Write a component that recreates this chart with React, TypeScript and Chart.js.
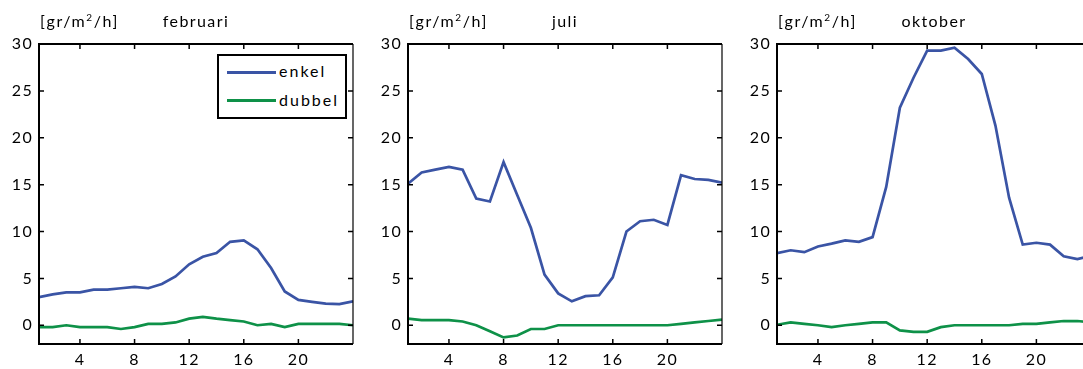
import React, { useEffect, useRef } from "react";
import { Chart, registerables } from "chart.js";

Chart.register(...registerables);

// ---- data ----
const hours = [1, 2, 3, 4, 5, 6, 7, 8, 9, 10, 11, 12, 13, 14, 15, 16, 17, 18, 19, 20, 21, 22, 23, 24];
const seriesNames = ["enkel", "dubbel"];
const months = ["februari", "juli", "oktober"];
const xTicks = [4, 8, 12, 16, 20];
const yTicks = [0, 5, 10, 15, 20, 25, 30];

const febEnkel = [3.0, 3.3, 3.5, 3.5, 3.8, 3.8, 3.95, 4.1, 3.95, 4.4, 5.2, 6.5, 7.3, 7.7, 8.9, 9.05, 8.1, 6.1, 3.6, 2.7, 2.5, 2.3, 2.25, 2.55];
const febDubbel = [-0.2, -0.2, 0, -0.2, -0.2, -0.2, -0.4, -0.2, 0.15, 0.15, 0.3, 0.7, 0.9, 0.7, 0.55, 0.4, 0, 0.15, -0.2, 0.15, 0.15, 0.15, 0.15, 0];
const julEnkel = [15.1, 16.3, 16.6, 16.9, 16.6, 13.5, 13.2, 17.4, 13.9, 10.4, 5.4, 3.4, 2.55, 3.1, 3.2, 5.1, 10.0, 11.1, 11.25, 10.7, 16.0, 15.6, 15.5, 15.2];
const julDubbel = [0.7, 0.55, 0.55, 0.55, 0.4, 0, -0.65, -1.3, -1.1, -0.4, -0.4, 0, 0, 0, 0, 0, 0, 0, 0, 0, 0.15, 0.3, 0.45, 0.6];
const oktEnkel = [7.7, 8.0, 7.8, 8.4, 8.7, 9.05, 8.9, 9.4, 14.75, 23.2, 26.4, 29.3, 29.3, 29.6, 28.4, 26.8, 21.3, 13.6, 8.6, 8.8, 8.6, 7.35, 7.05, 7.4];
const oktDubbel = [0.05, 0.3, 0.15, 0, -0.2, 0, 0.15, 0.3, 0.3, -0.55, -0.7, -0.7, -0.2, 0, 0, 0, 0, 0, 0.15, 0.15, 0.3, 0.45, 0.45, 0.3];

const BLUE = "#3a54a5";
const GREEN = "#0e9148";
const FONT = "Lato, 'Open Sans', sans-serif";

const PLOT_W = 314;
const AXIS_W = 39;
const CANVAS_W = AXIS_W + PLOT_W + 12;
const CANVAS_H = 369;

const framePlugin = {
  id: "frame",
  beforeDraw(chart: any) {
    (chart.ctx as any).letterSpacing = "1.3px";
  },
  afterDraw(chart: any) {
    const ctx = chart.ctx;
    const { left, right, top, bottom } = chart.chartArea;
    const x = chart.scales.x;
    const y = chart.scales.y;
    ctx.save();
    ctx.strokeStyle = "#000";
    ctx.lineWidth = 1.5;
    ctx.beginPath();
    xTicks.forEach((v) => {
      const px = x.getPixelForValue(v);
      ctx.moveTo(px, bottom);
      ctx.lineTo(px, bottom - 5);
      ctx.moveTo(px, top);
      ctx.lineTo(px, top + 5);
    });
    yTicks.forEach((v) => {
      const py = y.getPixelForValue(v);
      ctx.moveTo(left, py);
      ctx.lineTo(left + 5, py);
      ctx.moveTo(right, py);
      ctx.lineTo(right - 5, py);
    });
    ctx.stroke();
    ctx.lineWidth = 2;
    ctx.beginPath();
    ctx.moveTo(right, top);
    ctx.lineTo(left, top);
    ctx.lineTo(left, bottom);
    ctx.lineTo(right, bottom);
    ctx.stroke();
    ctx.lineWidth = 1.2;
    ctx.beginPath();
    ctx.moveTo(right, top);
    ctx.lineTo(right, bottom);
    ctx.stroke();
    ctx.restore();
  },
};

function Panel({ enkel, dubbel, left }: { enkel: number[]; dubbel: number[]; left: number }) {
  const ref = useRef<HTMLCanvasElement | null>(null);
  useEffect(() => {
    if (!ref.current) return;
    const chart = new Chart(ref.current, {
      type: "line",
      data: {
        labels: hours,
        datasets: [
          {
            label: seriesNames[0],
            data: hours.map((h, i) => ({ x: h, y: enkel[i] })),
            borderColor: BLUE,
            borderWidth: 2.7,
            pointRadius: 0,
            tension: 0,
          },
          {
            label: seriesNames[1],
            data: hours.map((h, i) => ({ x: h, y: dubbel[i] })),
            borderColor: GREEN,
            borderWidth: 2.7,
            pointRadius: 0,
            tension: 0,
          },
        ],
      },
      options: {
        animation: false,
        responsive: false,
        devicePixelRatio: 1,
        layout: { padding: { top: 44, right: CANVAS_W - AXIS_W - PLOT_W, bottom: 0, left: 0 } },
        plugins: { legend: { display: false }, tooltip: { enabled: false }, title: { display: false } },
        scales: {
          x: {
            type: "linear",
            min: 1,
            max: 24,
            grid: { display: false, drawTicks: false },
            border: { display: false },
            afterBuildTicks: (s: any) => {
              s.ticks = xTicks.map((v) => ({ value: v }));
            },
            afterFit: (s: any) => {
              s.height = 25;
            },
            ticks: {
              color: "#000",
              font: { family: FONT, size: 16 },
              padding: 6,
              maxRotation: 0,
              autoSkip: false,
              callback: (v: any) => String(v),
            },
          },
          y: {
            type: "linear",
            min: -2,
            max: 30,
            grid: { display: false, drawTicks: false },
            border: { display: false },
            afterBuildTicks: (s: any) => {
              s.ticks = yTicks.map((v) => ({ value: v }));
            },
            afterFit: (s: any) => {
              s.width = AXIS_W;
            },
            ticks: {
              color: "#000",
              font: { family: FONT, size: 16 },
              padding: 6,
              autoSkip: false,
              callback: (v: any) => String(v),
            },
          },
        },
      },
      plugins: [framePlugin],
    } as any);
    return () => chart.destroy();
  }, [enkel, dubbel]);
  return (
    <canvas
      ref={ref}
      width={CANVAS_W}
      height={CANVAS_H}
      style={{ position: "absolute", left: left - AXIS_W, top: 0, width: CANVAS_W, height: CANVAS_H }}
    />
  );
}

const textStyle: React.CSSProperties = {
  position: "absolute",
  fontFamily: FONT,
  fontSize: 16,
  lineHeight: "16px",
  letterSpacing: "1.6px",
  color: "#000",
  whiteSpace: "nowrap",
};

function Titles({ left, month }: { left: number; month: string }) {
  return (
    <>
      <div style={{ ...textStyle, left: left + 1, top: 13 }}>
        [gr/m<span style={{ fontSize: 10, position: "relative", top: -6 }}>2</span>/h]
      </div>
      <div style={{ ...textStyle, left, width: PLOT_W, top: 13, textAlign: "center", letterSpacing: "1.4px" }}>
        {month}
      </div>
    </>
  );
}

function Legend() {
  const line = (top: number, color: string): React.CSSProperties => ({
    position: "absolute",
    left: 8,
    top,
    width: 49,
    height: 3,
    background: color,
  });
  return (
    <div
      style={{
        position: "absolute",
        left: 217,
        top: 54,
        width: 130,
        height: 65,
        boxSizing: "border-box",
        border: "2px solid #000",
        background: "#fff",
      }}
    >
      <div style={line(15, BLUE)} />
      <div style={{ ...textStyle, left: 60, top: 7, letterSpacing: "2px" }}>{seriesNames[0]}</div>
      <div style={line(42.5, GREEN)} />
      <div style={{ ...textStyle, left: 60, top: 36, letterSpacing: "2px" }}>{seriesNames[1]}</div>
    </div>
  );
}

const plotLefts = [39, 408, 777];
const enkelData = [febEnkel, julEnkel, oktEnkel];
const dubbelData = [febDubbel, julDubbel, oktDubbel];

export default function App() {
  return (
    <div
      style={{
        position: "fixed",
        left: 0,
        top: 0,
        width: 1083,
        height: 369,
        overflow: "hidden",
        background: "#fff",
      }}
    >
      {plotLefts.map((l, i) => (
        <Panel key={i} left={l} enkel={enkelData[i]} dubbel={dubbelData[i]} />
      ))}
      {plotLefts.map((l, i) => (
        <Titles key={"t" + i} left={l} month={months[i]} />
      ))}
      <Legend />
    </div>
  );
}
